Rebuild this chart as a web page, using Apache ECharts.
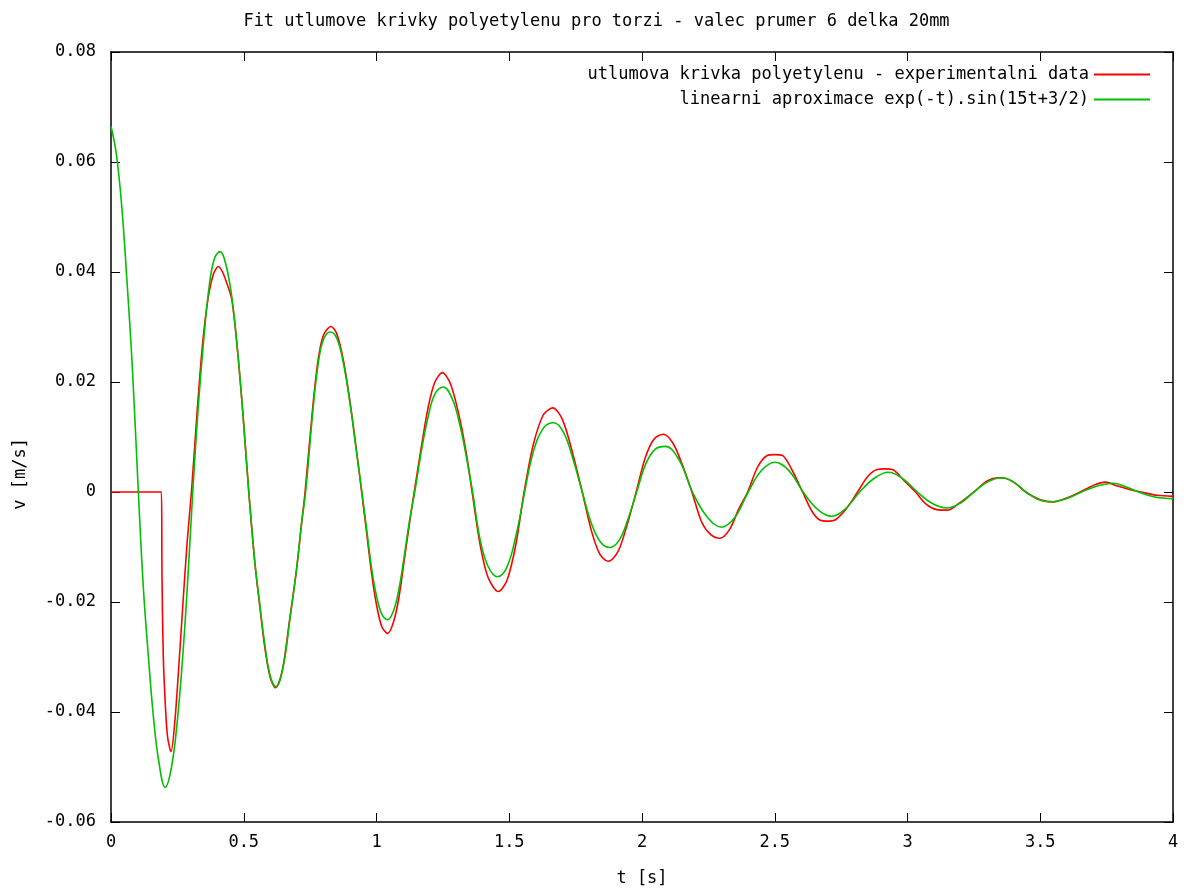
<!DOCTYPE html>
<html>
<head>
<meta charset="utf-8">
<script src="https://cdn.jsdelivr.net/npm/echarts@6/dist/echarts.min.js"></script>
<style>
  html, body { margin: 0; padding: 0; background: #fff; }
  #chart { width: 1193px; height: 892px; }
</style>
</head>
<body>
<div id="chart"></div>
<script>
// osa t [s] a v [m/s]
const xRange = [0, 4, 0.5];
const yRange = [-0.06, 0.08, 0.02];

const seriesNames = [
  'utlumova krivka polyetylenu - experimentalni data',
  'linearni aproximace exp(-t).sin(15t+3/2)'
];

// namerena data [t, v]
const expData = [
  [0.000, 0.0000], [0.190, 0.0000], [0.192, -0.0150], [0.197, -0.0300],
  [0.205, -0.0390], [0.213, -0.0445], [0.226, -0.0472], [0.240, -0.0420],
  [0.255, -0.0320], [0.270, -0.0210], [0.287, -0.0090], [0.303, 0.0000],
  [0.325, 0.0150], [0.345, 0.0270], [0.365, 0.0350], [0.385, 0.0395],
  [0.404, 0.0410], [0.420, 0.0400], [0.436, 0.0380], [0.455, 0.0350],
  [0.478, 0.0250], [0.498, 0.0135], [0.519, 0.0000], [0.542, -0.0130],
  [0.561, -0.0210], [0.580, -0.0285], [0.600, -0.0338], [0.620, -0.0356],
  [0.645, -0.0325], [0.672, -0.0235], [0.699, -0.0140], [0.718, -0.0056],
  [0.731, 0.0000], [0.760, 0.0155], [0.780, 0.0240], [0.800, 0.0285],
  [0.828, 0.0301], [0.850, 0.0288], [0.875, 0.0240], [0.900, 0.0165],
  [0.920, 0.0093], [0.944, 0.0000], [0.963, -0.0075], [0.982, -0.0150],
  [1.000, -0.0205], [1.020, -0.0245], [1.042, -0.0257], [1.065, -0.0235],
  [1.085, -0.0190], [1.105, -0.0122], [1.125, -0.0055], [1.142, 0.0000],
  [1.170, 0.0085], [1.195, 0.0155], [1.220, 0.0200], [1.248, 0.0217],
  [1.280, 0.0195], [1.315, 0.0130], [1.340, 0.0065], [1.360, 0.0000],
  [1.390, -0.0095], [1.420, -0.0155], [1.459, -0.0181], [1.492, -0.0160],
  [1.525, -0.0095], [1.556, 0.0000], [1.590, 0.0085], [1.628, 0.0140],
  [1.664, 0.0153], [1.700, 0.0132], [1.738, 0.0072], [1.775, 0.0000],
  [1.808, -0.0068], [1.840, -0.0112], [1.873, -0.0126], [1.910, -0.0108],
  [1.945, -0.0058], [1.978, 0.0000], [2.012, 0.0062], [2.045, 0.0096],
  [2.080, 0.0105], [2.115, 0.0090], [2.150, 0.0052], [2.188, 0.0000],
  [2.225, -0.0055], [2.260, -0.0078], [2.294, -0.0084], [2.330, -0.0068],
  [2.365, -0.0030], [2.398, 0.0000], [2.435, 0.0045], [2.470, 0.0066],
  [2.500, 0.0068], [2.530, 0.0066], [2.565, 0.0040], [2.605, 0.0000],
  [2.640, -0.0035], [2.670, -0.0051], [2.700, -0.0053], [2.730, -0.0050],
  [2.770, -0.0030], [2.812, 0.0000], [2.850, 0.0028], [2.885, 0.0041],
  [2.915, 0.0042], [2.947, 0.0040], [2.985, 0.0022], [3.030, 0.0000],
  [3.070, -0.0022], [3.110, -0.0032], [3.150, -0.0033], [3.190, -0.0022],
  [3.250, 0.0000], [3.300, 0.0020], [3.340, 0.0026], [3.370, 0.0025],
  [3.405, 0.0016], [3.445, 0.0000], [3.500, -0.0014], [3.550, -0.0018],
  [3.600, -0.0011], [3.650, 0.0000], [3.700, 0.0012], [3.745, 0.0018],
  [3.790, 0.0011], [3.840, 0.0004], [3.880, 0.0000], [3.940, -0.0006],
  [4.000, -0.0008]
];

// fit [t, v]
const fitData = [
  [0.000, 0.0665], [0.020, 0.0615], [0.040, 0.0522], [0.060, 0.0385],
  [0.080, 0.0230], [0.103, 0.0000], [0.122, -0.0175], [0.141, -0.0300],
  [0.160, -0.0410], [0.180, -0.0490], [0.204, -0.0537], [0.228, -0.0500],
  [0.250, -0.0415], [0.270, -0.0300], [0.289, -0.0160], [0.308, 0.0000],
  [0.328, 0.0150], [0.348, 0.0270], [0.370, 0.0375], [0.390, 0.0425],
  [0.411, 0.0437], [0.432, 0.0415], [0.455, 0.0355], [0.478, 0.0250],
  [0.498, 0.0135], [0.519, 0.0000], [0.542, -0.0128], [0.561, -0.0207],
  [0.580, -0.0280], [0.600, -0.0335], [0.621, -0.0354], [0.649, -0.0316],
  [0.674, -0.0231], [0.699, -0.0140], [0.718, -0.0056], [0.733, 0.0000],
  [0.762, 0.0156], [0.781, 0.0235], [0.800, 0.0277], [0.826, 0.0291],
  [0.850, 0.0280], [0.875, 0.0235], [0.900, 0.0162], [0.920, 0.0090],
  [0.945, 0.0000], [0.963, -0.0068], [0.982, -0.0140], [1.000, -0.0189],
  [1.020, -0.0222], [1.042, -0.0232], [1.065, -0.0215], [1.085, -0.0175],
  [1.105, -0.0115], [1.125, -0.0050], [1.144, 0.0000], [1.170, 0.0077],
  [1.195, 0.0138], [1.220, 0.0178], [1.252, 0.0191], [1.285, 0.0170],
  [1.315, 0.0120], [1.340, 0.0060], [1.362, 0.0000], [1.390, -0.0086],
  [1.420, -0.0135], [1.455, -0.0154], [1.490, -0.0138], [1.525, -0.0080],
  [1.558, 0.0000], [1.590, 0.0072], [1.630, 0.0117], [1.668, 0.0126],
  [1.705, 0.0108], [1.740, 0.0060], [1.775, 0.0000], [1.810, -0.0058],
  [1.845, -0.0092], [1.878, -0.0101], [1.915, -0.0087], [1.948, -0.0048],
  [1.980, 0.0000], [2.015, 0.0052], [2.050, 0.0078], [2.087, 0.0083],
  [2.140, 0.0058], [2.190, 0.0000], [2.245, -0.0045], [2.300, -0.0064],
  [2.350, -0.0046], [2.400, 0.0000], [2.450, 0.0039], [2.501, 0.0054],
  [2.555, 0.0038], [2.607, 0.0000], [2.660, -0.0031], [2.714, -0.0044],
  [2.765, -0.0031], [2.820, 0.0000], [2.875, 0.0025], [2.928, 0.0036],
  [2.980, 0.0025], [3.037, 0.0000], [3.090, -0.0020], [3.147, -0.0029],
  [3.200, -0.0020], [3.250, 0.0000], [3.300, 0.0018], [3.355, 0.0026],
  [3.400, 0.0018], [3.446, 0.0000], [3.490, -0.0013], [3.537, -0.0018],
  [3.600, -0.0012], [3.656, 0.0000], [3.715, 0.0011], [3.775, 0.0016],
  [3.820, 0.0010], [3.870, 0.0000], [3.930, -0.0009], [4.000, -0.0012]
];

const font = '"DejaVu Sans Mono", "Liberation Mono", monospace';
const txt = { color: '#000', fontFamily: font, fontSize: 17 };

const tick = { show: true, inside: true, length: 9, lineStyle: { color: '#000', width: 1 } };
const line = { show: true, onZero: false, lineStyle: { color: '#000', width: 1.5 } };

function xAx(pos, labels) {
  return {
    type: 'value', position: pos, min: xRange[0], max: xRange[1], interval: xRange[2],
    axisLine: line, splitLine: { show: false }, axisTick: tick,
    axisLabel: Object.assign({ show: labels, margin: 12 }, txt)
  };
}
function yAx(pos, labels) {
  return {
    type: 'value', position: pos, min: yRange[0], max: yRange[1], interval: yRange[2],
    axisLine: line, splitLine: { show: false }, axisTick: tick,
    axisLabel: Object.assign({ show: labels, margin: 15 }, txt)
  };
}

const chart = echarts.init(document.getElementById('chart'), null, { renderer: 'canvas' });
chart.setOption({
  animation: false,
  backgroundColor: '#fff',
  title: {
    text: 'Fit utlumove krivky polyetylenu pro torzi - valec prumer 6 delka 20mm',
    left: 'center', top: 8,
    textStyle: Object.assign({}, txt, { fontWeight: 'normal' })
  },
  grid: { left: 111, right: 20, top: 52, bottom: 69 },
  legend: [
    {
      data: [seriesNames[0]], right: 38, top: 61, align: 'right',
      icon: 'rect', itemWidth: 56, itemHeight: 2, textStyle: txt
    },
    {
      data: [seriesNames[1]], right: 38, top: 86, align: 'right',
      icon: 'rect', itemWidth: 56, itemHeight: 2, textStyle: txt
    }
  ],
  xAxis: [
    Object.assign(xAx('bottom', true), {
      name: 't [s]', nameLocation: 'middle', nameGap: 48, nameTextStyle: txt
    }),
    xAx('top', false)
  ],
  yAxis: [yAx('left', true), yAx('right', false)],
  graphic: [{
    type: 'text', left: 12, top: 438, rotation: Math.PI / 2,
    style: { text: 'v [m/s]', fill: '#000', font: '17px ' + font }
  }],
  series: [
    {
      name: seriesNames[0], type: 'line', xAxisIndex: 0, yAxisIndex: 0,
      data: expData, showSymbol: false, smooth: 0.3,
      lineStyle: { color: '#ff0000', width: 1.6 }, itemStyle: { color: '#ff0000' }
    },
    {
      name: seriesNames[1], type: 'line', xAxisIndex: 0, yAxisIndex: 0,
      data: fitData, showSymbol: false, smooth: 0.4,
      lineStyle: { color: '#00c000', width: 1.6 }, itemStyle: { color: '#00c000' }
    }
  ]
});
</script>
</body>
</html>
